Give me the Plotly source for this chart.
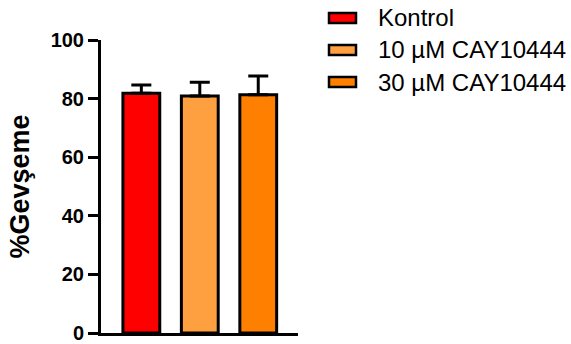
import plotly.graph_objects as go

categories = ["Kontrol", "10 µM CAY10444", "30 µM CAY10444"]
means = [81.8, 80.9, 81.3]
sd_upper = [2.8, 4.7, 6.4]
colors = ["#FF0000", "#FFA040", "#FF8000"]
y_ticks = [0, 20, 40, 60, 80, 100]
y_title = "%Gevşeme"

W, H = 571, 344
L, R, T, B = 101, 273, 40, 11
pw = W - L - R
ph = H - T - B

fig = go.Figure()
for cat, m, s, c in zip(categories, means, sd_upper, colors):
    fig.add_trace(go.Bar(
        x=[cat], y=[m], name=cat, width=0.63,
        marker=dict(color=c, line=dict(color="black", width=3)),
        error_y=dict(type="data", symmetric=False, array=[s], arrayminus=[0],
                     thickness=3, width=10, color="black"),
        showlegend=False,
    ))

# custom legend (wide boxes like GraphPad)
def px2x(px):
    return (px - L) / pw

def py2y(py):
    return 1 - (py - T) / ph

shapes = []
annotations = []
row_y = [18, 50, 82]
for cat, c, ry in zip(categories, colors, row_y):
    shapes.append(dict(type="rect", xref="paper", yref="paper",
                       x0=px2x(329), x1=px2x(356), y0=py2y(ry + 5), y1=py2y(ry - 5),
                       fillcolor=c, line=dict(color="black", width=2.5)))
    annotations.append(dict(xref="paper", yref="paper", x=px2x(376), y=py2y(ry),
                            text=cat, showarrow=False, xanchor="left", yanchor="middle",
                            font=dict(family="Liberation Sans, Arial", size=24, color="black")))

fig.update_layout(
    width=W, height=H,
    margin=dict(l=L, r=R, t=T, b=B, pad=0, autoexpand=False),
    plot_bgcolor="white", paper_bgcolor="white",
    barmode="overlay",
    showlegend=False,
    shapes=shapes, annotations=annotations,
    xaxis=dict(range=[-0.69, 2.68], showline=True, linewidth=3, linecolor="black",
               showticklabels=False, ticks="", showgrid=False, zeroline=False,
               automargin=False),
    yaxis=dict(range=[0, 100], tickvals=y_ticks, showline=True, linewidth=3,
               linecolor="black", ticks="outside", ticklen=10, tickwidth=3,
               tickcolor="black", showgrid=False, zeroline=False, automargin=False,
               tickfont=dict(family="Liberation Sans, Arial", size=20, color="black", weight="bold"),
               title=dict(text=y_title, standoff=14,
                          font=dict(family="Liberation Sans, Arial", size=27, color="black", weight="bold"))),
)

fig.write_html("out.html")
